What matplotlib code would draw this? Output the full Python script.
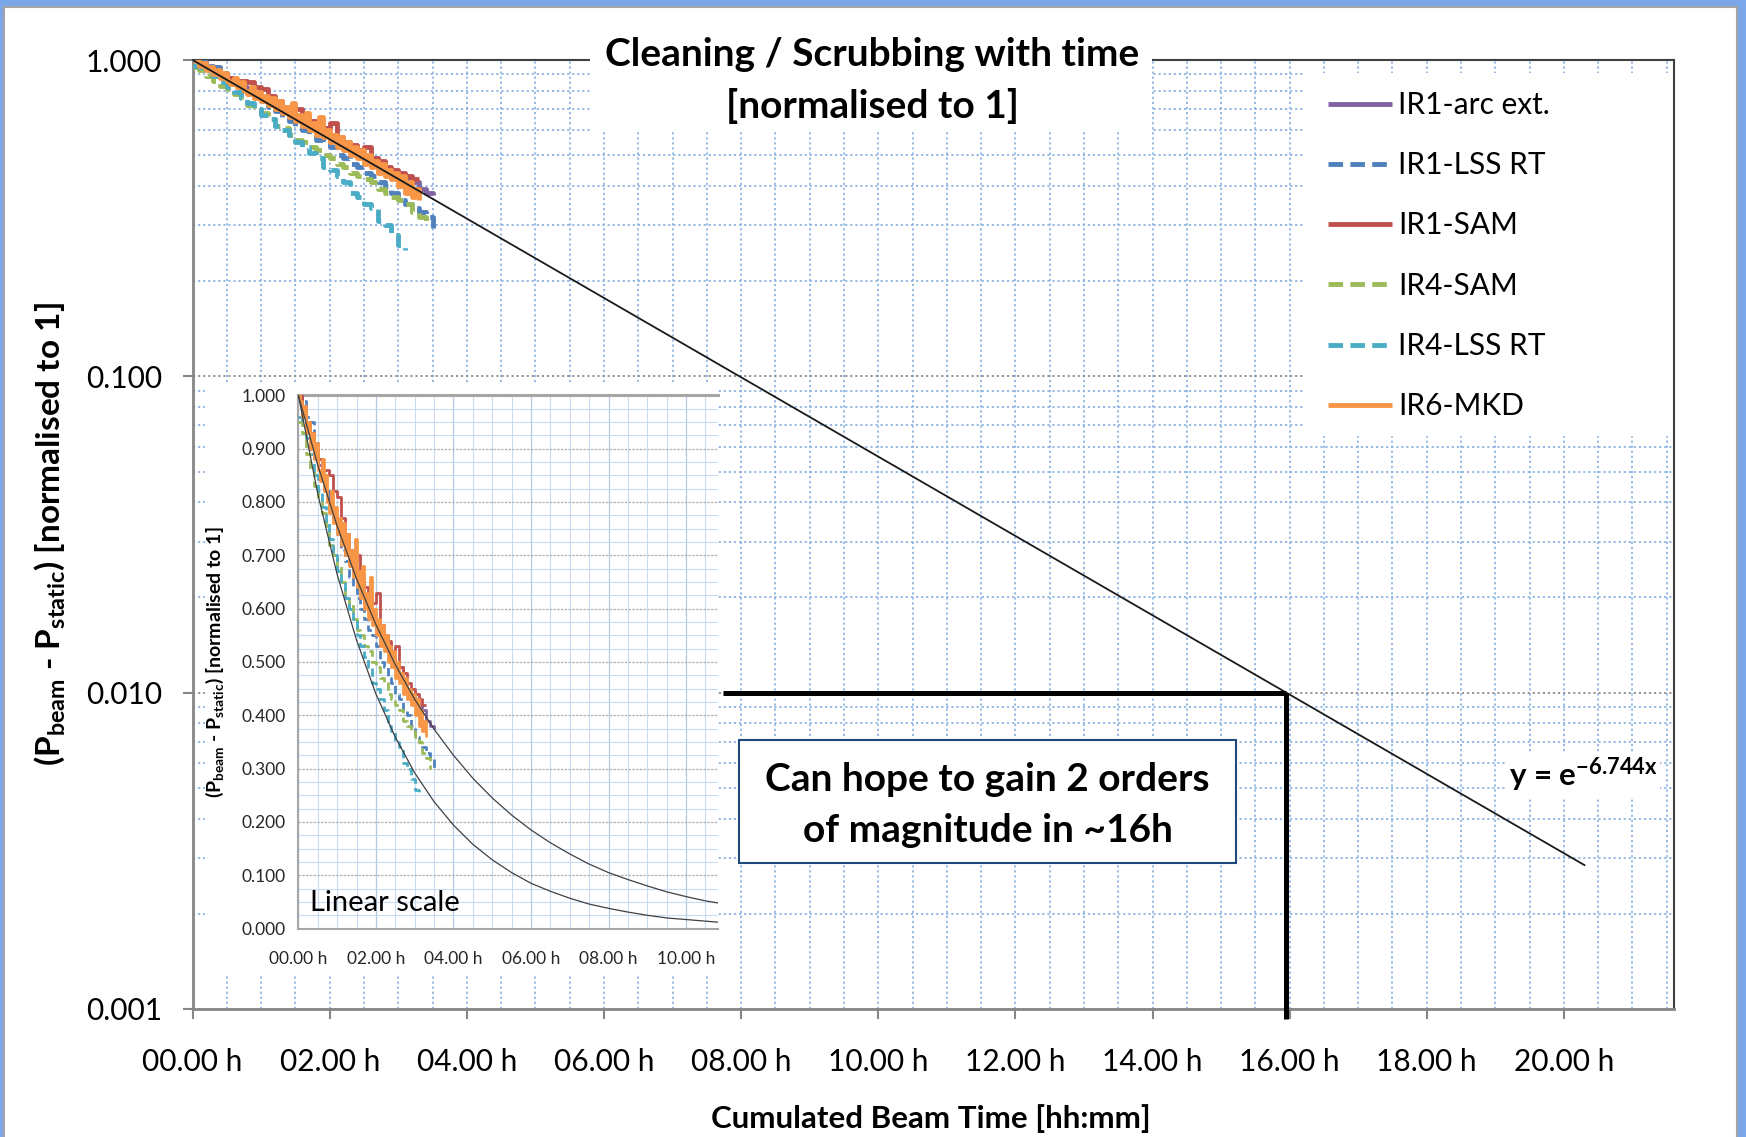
import numpy as np
import matplotlib.pyplot as plt
from matplotlib.patches import Rectangle
from matplotlib.ticker import MultipleLocator, LogLocator, FixedLocator, FuncFormatter, NullFormatter

plt.rcParams['font.family'] = ['Lato', 'DejaVu Sans']
plt.rcParams['mathtext.fontset'] = 'custom'
plt.rcParams['mathtext.rm'] = 'Lato'
plt.rcParams['mathtext.bf'] = 'Lato:bold'

# --- data (hours, normalised heat load) ---
series_names = ['IR1-arc ext.', 'IR1-LSS RT', 'IR1-SAM', 'IR4-SAM', 'IR4-LSS RT', 'IR6-MKD']
series_colors = ['#8064A2', '#4F81BD', '#C0504D', '#9BBB59', '#4BACC6', '#F79646']
series_dashed = [False, True, False, True, True, False]

hours = [i / 10 for i in range(36)]        # 0.0 .. 3.5 h
hours_fine = [i / 20 for i in range(67)]   # 0.00 .. 3.30 h

arc_ext = [1.00, 0.97, 0.95, 0.92, 0.89, 0.87, 0.84, 0.82, 0.80, 0.77,
           0.75, 0.73, 0.71, 0.70, 0.67, 0.65, 0.64, 0.61, 0.60, 0.58,
           0.56, 0.56, 0.53, 0.52, 0.51, 0.49, 0.49, 0.46, 0.45, 0.44,
           0.43, 0.42, 0.41, 0.39, 0.38, 0.375]
lss_ir1 = [1.00, 0.99, 0.96, 0.95, 0.91, 0.88, 0.85, 0.82, 0.79, 0.77,
           0.74, 0.71, 0.69, 0.66, 0.64, 0.62, 0.60, 0.58, 0.56, 0.55,
           0.53, 0.50, 0.49, 0.47, 0.46, 0.44, 0.43, 0.41, 0.40, 0.38,
           0.36, 0.35, 0.34, 0.33, 0.32, 0.295]
sam_ir1 = [1.00, 0.98, 0.95, 0.93, 0.90, 0.88, 0.86, 0.86, 0.85, 0.82,
           0.81, 0.77, 0.74, 0.71, 0.69, 0.70, 0.66, 0.64, 0.62, 0.61,
           0.63, 0.57, 0.55, 0.54, 0.52, 0.53, 0.49, 0.48, 0.46, 0.45,
           0.44, 0.43, 0.42, 0.42]
sam_ir4 = [0.95, 0.93, 0.89, 0.86, 0.83, 0.81, 0.78, 0.75, 0.72, 0.70,
           0.68, 0.65, 0.62, 0.61, 0.58, 0.56, 0.55, 0.53, 0.52, 0.50,
           0.49, 0.47, 0.46, 0.44, 0.43, 0.42, 0.41, 0.39, 0.38, 0.37,
           0.36, 0.35, 0.33, 0.32, 0.30]
lss_ir4 = [0.96, 0.95, 0.92, 0.89, 0.85, 0.82, 0.79, 0.76, 0.73, 0.70,
           0.67, 0.65, 0.62, 0.60, 0.58, 0.55, 0.53, 0.51, 0.49, 0.46,
           0.45, 0.43, 0.41, 0.38, 0.37, 0.35, 0.34, 0.31, 0.30, 0.28,
           0.26, 0.25]
mkd_ir6 = [1.00, 0.99, 0.96, 0.98, 0.93, 0.95, 0.90, 0.93, 0.88, 0.91,
           0.86, 0.84, 0.88, 0.82, 0.85, 0.80, 0.78, 0.82, 0.76, 0.79,
           0.74, 0.77, 0.72, 0.76, 0.70, 0.74, 0.68, 0.71, 0.66, 0.73,
           0.64, 0.67, 0.62, 0.68, 0.60, 0.63, 0.58, 0.66, 0.57, 0.60,
           0.55, 0.58, 0.53, 0.57, 0.52, 0.55, 0.50, 0.53, 0.49, 0.52,
           0.47, 0.50, 0.46, 0.48, 0.44, 0.47, 0.43, 0.45, 0.42, 0.44,
           0.40, 0.43, 0.38, 0.41, 0.37, 0.39, 0.36]

series_x = [hours, hours, hours[:34], hours[:35], hours[:32], hours_fine]
series_y = [arc_ext, lss_ir1, sam_ir1, sam_ir4, lss_ir4, mkd_ir6]

# fitted exponential (log view)
fit_t = [0.0, 20.3]
fit_y = [1.0, 0.00285]

# the two trend curves of the linear inset
curve_t = [0.0, 0.5, 1.0, 1.5, 2.0, 2.5, 3.0, 3.5, 4.0, 4.5, 5.0, 5.5,
           6.0, 6.5, 7.0, 7.5, 8.0, 8.5, 9.0, 9.5, 10.0, 10.5, 10.83]
curve_upper = [1.000, 0.869, 0.755, 0.656, 0.570, 0.495, 0.430, 0.374, 0.325,
               0.282, 0.245, 0.213, 0.185, 0.161, 0.140, 0.121, 0.105, 0.092,
               0.080, 0.069, 0.060, 0.052, 0.048]
curve_lower = [1.000, 0.815, 0.664, 0.541, 0.440, 0.359, 0.292, 0.238, 0.194,
               0.158, 0.129, 0.105, 0.085, 0.070, 0.057, 0.046, 0.038, 0.031,
               0.025, 0.020, 0.017, 0.014, 0.012]

W, H = 1746, 1137
fig = plt.figure(figsize=(W / 100, H / 100), dpi=100)
fig.patch.set_facecolor('#7AA6EA')
fig.add_artist(Rectangle((4 / W, -0.01), (1737 - 4) / W, 1.01 - 7 / H, transform=fig.transFigure,
                         facecolor='white', edgecolor='#A5A5A5', lw=1.5, zorder=-1))

def fx(px):
    return px / W

def fy(py):
    return 1 - py / H

hfmt = FuncFormatter(lambda v, p: f'{v:05.2f} h')
blue_dot = '#8EB4E3'

# ---------------- main log axes ----------------
ax = fig.add_axes([fx(192.6), fy(1009), fx(1673.6) - fx(192.6), fy(60) - fy(1009)])
ax.set_yscale('log')
ax.set_xlim(0, 21.6)
ax.set_ylim(0.001, 1.0)
ax.xaxis.set_major_locator(MultipleLocator(2))
ax.xaxis.set_minor_locator(MultipleLocator(0.5))
ax.xaxis.set_major_formatter(hfmt)
ax.yaxis.set_major_locator(FixedLocator([0.001, 0.01, 0.1, 1.0]))
ax.yaxis.set_minor_locator(LogLocator(base=10, subs=range(2, 10), numticks=20))
ax.yaxis.set_minor_formatter(NullFormatter())
ax.yaxis.set_major_formatter(FuncFormatter(lambda v, p: f'{v:.3f}'))
ax.tick_params(which='major', length=7, width=1.5, color='#868686', labelsize=21.5, direction='out')
ax.tick_params(axis='x', which='major', pad=21)
ax.tick_params(axis='y', which='major', pad=15)
ax.tick_params(which='minor', length=0)
ax.set_axisbelow(True)
ax.grid(axis='x', which='both', color=blue_dot, ls=(0, (1.2, 1.6)), lw=1.3)
ax.grid(axis='y', which='minor', color=blue_dot, ls=(0, (1.2, 1.6)), lw=1.3)
ax.grid(axis='y', which='major', color='#8C8C8C', ls=(0, (1.2, 1.6)), lw=1.3)
for s in ['left', 'bottom']:
    ax.spines[s].set_color('#868686')
    ax.spines[s].set_linewidth(2)
for s in ['top', 'right']:
    ax.spines[s].set_color('#404040')
    ax.spines[s].set_linewidth(1.5)

lines = []
for x, y, c, d, n in zip(series_x, series_y, series_colors, series_dashed, series_names):
    ln, = ax.plot(x, y, color=c, lw=3.5, drawstyle='steps-post', label=n, zorder=3,
                  solid_capstyle='butt')
    if d:
        ln.set_dashes([3, 1.5])
    lines.append(ln)
ax.plot(fit_t, fit_y, color='#1A1A1A', lw=1.3, zorder=4)

# legend with white backing
ax.add_patch(Rectangle((fx(1303), fy(436)), fx(1673) - fx(1303), fy(73) - fy(436),
                       transform=fig.transFigure, facecolor='white', edgecolor='none', zorder=2))
leg = fig.legend(handles=lines, loc='upper left', bbox_to_anchor=(fx(1328), fy(91)),
                 frameon=False, fontsize=21.5, handlelength=2.15, handletextpad=0.2,
                 labelspacing=1.08, borderpad=0, borderaxespad=0)
for h in leg.get_lines():
    h.set_linewidth(3.5)

# annotation: two orders of magnitude in ~16 h
ax.plot([7.74, 15.95], [0.01, 0.01], color='black', lw=3.6, zorder=5, solid_capstyle='butt')
ax.plot([15.95, 15.95], [0.01, 0.00093], color='black', lw=3.6, zorder=5,
        solid_capstyle='butt', clip_on=False)
fig.add_artist(Rectangle((fx(739), fy(863)), fx(1236) - fx(739), fy(740) - fy(863),
                         transform=fig.transFigure, facecolor='white', edgecolor='#1F497D',
                         lw=1.5, zorder=3))
fig.text(fx(987.5), fy(805), 'Can hope to gain 2 orders\nof magnitude in ~16h', ha='center',
         va='center', fontsize=28, fontweight='bold', linespacing=1.55, zorder=4)

fig.text(fx(1583), fy(775), r'y = e$^{\mathbf{-6.744x}}$', ha='center', va='center',
         fontsize=22.5, fontweight='bold', zorder=4,
         bbox=dict(facecolor='white', edgecolor='none', pad=2))

# title with white backing over the top frame line
fig.add_artist(Rectangle((fx(590), fy(131)), fx(1152) - fx(590), fy(28) - fy(131),
                         transform=fig.transFigure, facecolor='white', edgecolor='none', zorder=3))
fig.text(fx(872), fy(54), 'Cleaning / Scrubbing with time', ha='center', va='center',
         fontsize=28, fontweight='bold', zorder=4)
fig.text(fx(872), fy(106), '[normalised to 1]', ha='center', va='center',
         fontsize=28, fontweight='bold', zorder=4)

fig.text(fx(931), fy(1119), 'Cumulated Beam Time [hh:mm]', ha='center', va='center',
         fontsize=22.5, fontweight='bold')
fig.text(fx(50), fy(534), r'(P$_{\mathbf{beam}}$ - P$_{\mathbf{static}}$) [normalised to 1]',
         ha='center', va='center', rotation=90, fontsize=24, fontweight='bold')

# ---------------- inset, linear scale ----------------
fig.add_artist(Rectangle((fx(205), fy(975)), fx(718) - fx(205), fy(383) - fy(975),
                         transform=fig.transFigure, facecolor='white', edgecolor='none', zorder=1))
ins = fig.add_axes([fx(298.4), fy(928.6), fx(718.2) - fx(298.4), fy(395.3) - fy(928.6)], zorder=2)
ins.set_xlim(0, 10.83)
ins.set_ylim(0, 1.0)
ins.xaxis.set_major_locator(MultipleLocator(2))
ins.xaxis.set_minor_locator(MultipleLocator(0.5))
ins.xaxis.set_major_formatter(hfmt)
ins.yaxis.set_major_locator(MultipleLocator(0.1))
ins.yaxis.set_minor_locator(MultipleLocator(0.025))
ins.yaxis.set_major_formatter(FuncFormatter(lambda v, p: f'{v:.3f}'))
ins.tick_params(which='both', length=0, labelsize=12.5, labelcolor='#262626')
ins.tick_params(axis='x', pad=16)
ins.tick_params(axis='y', pad=9)
ins.set_axisbelow(True)
ins.grid(which='minor', color='#C9DBF2', lw=0.8)
ins.grid(axis='x', which='major', color='#B4C9E4', lw=0.9)
ins.grid(axis='y', which='major', color='#B0B0B0', lw=0.9, ls=(0, (2, 1)))
for s in ['left', 'bottom', 'top']:
    ins.spines[s].set_color('#A6A6A6')
    ins.spines[s].set_linewidth(1.5)
ins.spines['top'].set_linewidth(2.2)
ins.spines['right'].set_visible(False)

for x, y, c, d in zip(series_x, series_y, series_colors, series_dashed):
    ln, = ins.plot(x, y, color=c, lw=2, drawstyle='steps-post', zorder=3, solid_capstyle='butt')
    if d:
        ln.set_dashes([3, 1.5])
ins.plot(curve_t, curve_upper, color='#404040', lw=0.9, zorder=4)
ins.plot(curve_t, curve_lower, color='#404040', lw=0.9, zorder=4)
ins.text(0.3, 0.048, 'Linear scale', fontsize=21, va='center', ha='left', zorder=5)

fig.text(fx(215), fy(662), r'(P$_{\mathbf{beam}}$ - P$_{\mathbf{static}}$) [normalised to 1]',
         ha='center', va='center', rotation=90, fontsize=14, fontweight='bold', zorder=3)

plt.savefig('out.png', dpi=100)
